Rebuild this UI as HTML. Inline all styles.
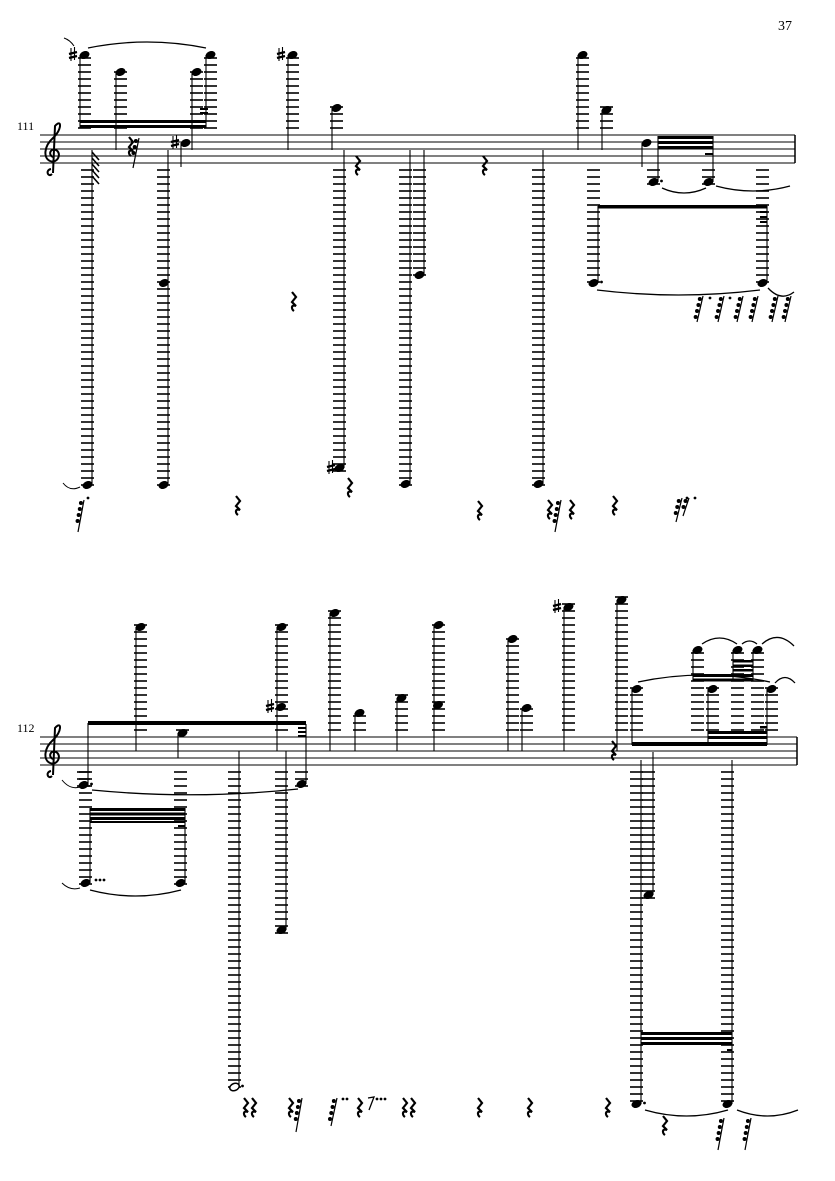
<!DOCTYPE html>
<html><head><meta charset="utf-8"><style>
html,body{margin:0;padding:0;background:#fff}
svg{display:block}
text{font-family:"Liberation Serif",serif;fill:#000}
</style></head><body>
<svg id="s" xmlns="http://www.w3.org/2000/svg" width="835" height="1181" viewBox="0 0 835 1181">
<text x="778" y="30" font-size="14">37</text>
<text x="17" y="130" font-size="12">111</text>
<text x="17" y="732" font-size="12">112</text>
</svg>
<script>
var S=document.getElementById('s'),h='';
function L(x1,y1,x2,y2,w){h+='<line x1="'+x1+'" y1="'+y1+'" x2="'+x2+'" y2="'+y2+'" stroke="#000" stroke-width="'+(w||1)+'"/>';}
function R(x,y,w,hh){h+='<rect x="'+x+'" y="'+y+'" width="'+w+'" height="'+hh+'" fill="#000"/>';}
function P(d,w,f){h+='<path d="'+d+'" fill="'+(f||'none')+'" stroke="#000" stroke-width="'+(w||1)+'"/>';}
var T,B;
function staff(t,x2){T=t;B=t+28;for(var i=0;i<5;i++)L(40,t+7*i,x2,t+7*i,1);L(x2,t,x2,t+28,1.5);
 var g=t+21;P('M52,'+(g+18)+' C48,'+(g+22)+' 45,'+(g+14)+' 51,'+(g+13)+' M53,'+(g+17)+' L55,'+(g-30)+' C62,'+(g-38)+' 62,'+(g-26)+' 53,'+(g-18)+' C44,'+(g-10)+' 43,'+(g+2)+' 50,'+(g+5)+' C58,'+(g+8)+' 62,'+(g-3)+' 56,'+(g-6)+' C50,'+(g-8)+' 48,'+(g-1)+' 53,'+(g+1),2);}
function led(x,y){var k;if(y<T){for(k=T-7;k>=y-3;k-=7)L(x-6.5,k,x+6.5,k,1.6);}if(y>B){for(k=B+7;k<=y+3;k+=7)L(x-6.5,k,x+6.5,k,1.6);}}
function hd(x,y,open){h+='<ellipse cx="'+x+'" cy="'+y+'" rx="4.9" ry="3.5" transform="rotate(-22 '+x+' '+y+')" fill="'+(open?'#fff':'#000')+'" stroke="#000" stroke-width="'+(open?1.5:0.5)+'"/>';}
function n(sx,y,se,o){var hx=se>y?sx+4.5:sx-4.5;led(hx,y);L(sx,y,sx,se,1.1);hd(hx,y,o&&o.open);if(o&&o.sh)sh(o.sh,y);if(o&&o.dot)dot(hx+8,y-1);return hx;}
function sh(x,y){L(x-2,y-7,x-2,y+6,1.1);L(x+1.5,y-8,x+1.5,y+5,1.1);L(x-4,y-1,x+4,y-3,2.2);L(x-4,y+3,x+4,y+1,2.2);}
function dot(x,y){h+='<circle cx="'+x+'" cy="'+y+'" r="1.4" fill="#000"/>';}
function qr(x,y){P('M'+(x-1)+','+(y-9)+' L'+(x+3)+','+(y-4)+' L'+(x-1)+','+(y+1)+' L'+(x+3)+','+(y+5)+' C'+(x-2)+','+(y+3)+' '+(x-2)+','+(y+8)+' '+(x+1)+','+(y+10),2.2);}
function r32(x,y,len,nb){len=len||26;nb=nb||4;L(x+6,y,x,y+len,1.2);for(var i=0;i<nb;i++){var t=(i*6+3)/len;var px=x+6-6*t,py=y+i*6+3;h+='<circle cx="'+(px-2.5)+'" cy="'+(py)+'" r="2" fill="#000"/>';}}
function tie(x1,y1,x2,y2,c){P('M'+x1+','+y1+' Q'+((x1+x2)/2)+','+(c)+' '+x2+','+y2,1.3);}
/* ===== SYSTEM 1 ===== */
staff(135,795);
n(80,55,128,{sh:73});n(116,72,150);n(192,72,150);n(206,55,128);
R(80,120,126,3);R(80,125,126,3);R(200,108,8,2);R(200,112,8,2);
tie(88,48,206,48,36);P('M64,38 Q70,40 74,46',1);
n(181,143,167,{sh:175});
n(168,485,150);hd(164,283);
n(92,485,150);P('M63,483 Q70,492 80,487',1);
for(var i=0;i<5;i++)L(92,152+i*6,99,160+i*6,1.6);
n(288,55,150,{sh:281});n(332,108,150);
n(344,468,150,{sh:331});n(410,484,150);n(424,275,150);n(543,484,150);
n(578,55,150);n(602,110,150);n(642,143,167);
n(658,182,136,{dot:1});n(713,182,136);R(658,136,55,3);R(658,141,55,3);R(658,146,55,3);R(705,153,8,2);
tie(662,188,706,188,198);tie(716,186,790,186,196);
n(598,283,206,{dot:1});n(767,283,206);R(598,205,169,3.5);R(760,211,7,2);R(760,216,7,2);R(760,221,7,2);
tie(597,290,760,290,300);tie(768,288,794,292,302);
qr(130,146);r32(133,138,30,3);qr(357,165);qr(484,165);qr(293,301);
r32(78,500,32,4);dot(88,498);qr(237,505);qr(349,487);qr(479,510);
qr(549,509);r32(555,500,32,4);qr(571,509);qr(614,505);r32(676,498,24,3);dot(687,498);r32(683,498,18,2);dot(695,498);
[697,718,737,752,772,785].forEach(function(x){r32(x,296,26,4)});dot(710,298);dot(730,298);
/* ===== SYSTEM 2 ===== */
staff(737,797);
R(88,721,218,4);
n(88,785,723,{dot:1});P('M62,780 Q70,790 80,787',1);
n(136,627,751);n(178,733,758);
n(239,1087,751,{open:1,dot:1});
n(277,627,751);hd(281,707);sh(270,707);
n(286,930,751);n(306,784,724);R(298,727,8,2);R(298,731,8,2);R(298,735,8,2);
tie(92,790,298,789,800);
n(90,883,808);n(185,883,808);R(90,808,95,3);R(90,812.5,95,3);R(90,817,95,3);R(90,821,95,2);R(178,825,7,2);
dot(96,880);dot(100,880);dot(104,880);tie(90,890,181,890,902);P('M62,883 Q70,891 80,888',1);
n(330,613,751);n(355,713,751);n(397,698,751);n(434,625,751);hd(438,705);
n(508,639,751);n(522,708,751);n(564,607,751,{sh:557});n(617,600,751);qr(613,750);
n(632,689,745);n(708,689,745);n(767,689,745);R(632,742,135,4);R(708,731,59,3);R(708,736,59,3);R(760,726,7,2.5);
n(693,650,681);n(733,650,681);n(753,650,681);R(693,674,60,3);R(693,678.5,60,3);R(733,660,20,2.5);R(733,664.5,20,2.5);R(733,669,20,2.5);
tie(638,682,770,682,668);tie(702,644,737,644,632);tie(742,644,757,644,638);tie(762,644,794,646,630);tie(775,683,795,683,672);
n(653,895,752);
n(641,1104,760,{dot:1});n(732,1104,760);R(641,1032,91,3);R(641,1037,91,3);R(641,1042,91,3);R(727,1049,5,2);
tie(645,1110,728,1110,1122);tie(737,1110,798,1110,1122);
qr(245,1107);qr(253,1107);qr(290,1107);r32(296,1098,34,4);r32(331,1098,28,4);dot(343,1099);dot(347,1099);
qr(359,1107);P('M368,1098 L374,1097 L369,1110',1.3);dot(377,1099);dot(381,1099);dot(385,1099);qr(404,1107);qr(412,1107);
qr(479,1107);qr(529,1107);qr(607,1107);qr(664,1125);r32(718,1118,32,4);r32(745,1118,32,4);
S.insertAdjacentHTML('beforeend',h);
</script>
</body></html>
